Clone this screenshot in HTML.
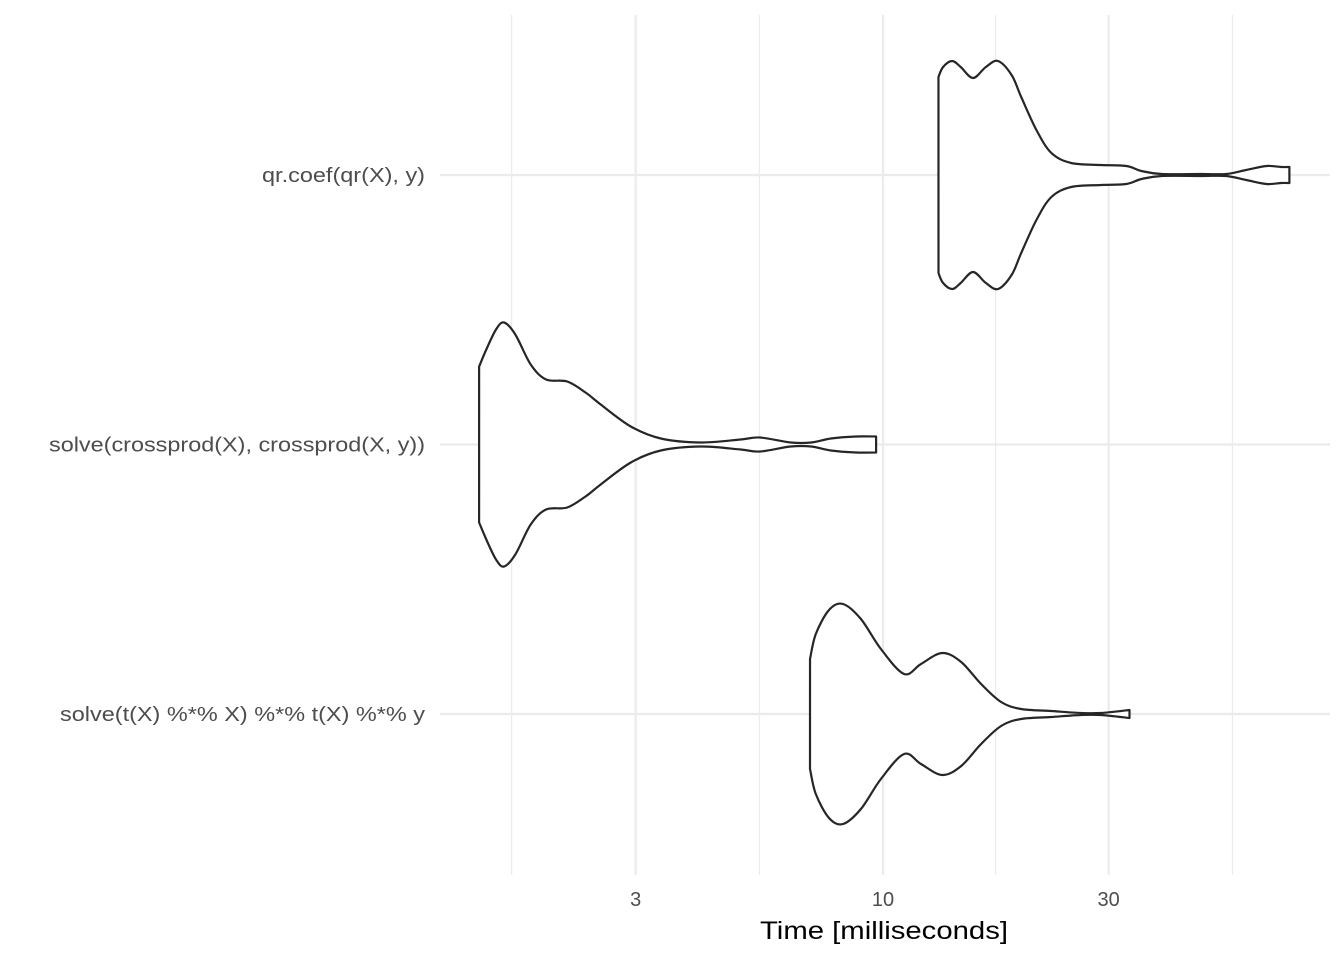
<!DOCTYPE html>
<html><head><meta charset="utf-8"><style>
body{margin:0;background:#fff}
svg{display:block;font-family:"Liberation Sans",Arial,sans-serif}
</style></head><body>
<svg id="chart" width="1344" height="960">
<g id="grid"></g>
<g id="violins"></g>
<g id="labels"></g>
<text x="884" y="939" text-anchor="middle" font-size="25" textLength="248" lengthAdjust="spacingAndGlyphs" fill="#000">Time [milliseconds]</text>
</svg>
<script>
const categories = ["qr.coef(qr(X), y)", "solve(crossprod(X), crossprod(X, y))", "solve(t(X) %*% X) %*% t(X) %*% y"];
const qrTimes = [13.1,13.4,14.0,14.6,15.5,16.5,17.5,18.7,19.6,21.1,22.7,25.0,28.9,32.7,35.2,38.8,47.1,53.2,58.6,64.7,69.5,72.3];
const qrDens = [98,108,114,108,97,108,114,100,78,45,22,12,10,9,4,1,1,1,5,9,8,8];
const cpTimes = [1.40,1.45,1.52,1.58,1.67,1.80,1.94,2.15,2.35,2.53,2.93,3.39,4.12,5.00,5.49,6.38,7.05,7.76,8.77,9.67];
const cpDens = [78,95,115,122,110,80,65,63,52,40,18,6,2,5,7,2,2,6,8,8];
const mmTimes = [7.01,7.21,7.69,8.23,8.98,9.90,11.08,12.03,13.34,14.63,16.12,17.77,19.59,22.7,26.2,28.9,33.2];
const mmDens = [55,80,104,110,95,65,40,50,61,52,30,12,5,3,1,1,4];
const majorTicks = [3, 10, 30];
const minorTicks = [1.64, 5.48, 17.3, 54.8];
const labelWidths = [163, 376, 365];
const series = [[qrTimes, qrDens], [cpTimes, cpDens], [mmTimes, mmDens]];

const NS = "http://www.w3.org/2000/svg";
const xs = v => 883 + 473 * Math.log10(v / 10);
const ys = i => 175 + i * 269.5;
const ws = d => d;
const grid = document.getElementById('grid'), vg = document.getElementById('violins'), lg = document.getElementById('labels');
function mk(tag, attrs, parent){const e=document.createElementNS(NS,tag);for(const k in attrs)e.setAttribute(k,attrs[k]);parent.appendChild(e);return e;}
function smooth(pts){
  let d='M'+pts[0][0]+','+pts[0][1];
  for(let i=0;i<pts.length-1;i++){
    const p0=pts[Math.max(0,i-1)],p1=pts[i],p2=pts[i+1],p3=pts[Math.min(pts.length-1,i+2)];
    const c1=[p1[0]+(p2[0]-p0[0])/6,p1[1]+(p2[1]-p0[1])/6];
    const c2=[p2[0]-(p3[0]-p1[0])/6,p2[1]-(p3[1]-p1[1])/6];
    d+=' C'+c1[0].toFixed(1)+','+c1[1].toFixed(1)+' '+c2[0].toFixed(1)+','+c2[1].toFixed(1)+' '+p2[0].toFixed(1)+','+p2[1].toFixed(1);
  }
  return d;
}
minorTicks.forEach(t=>{
  const l=mk('line',{x1:xs(t),x2:xs(t),y1:15,y2:875,stroke:'#ebebeb','stroke-width':1.2},grid);
  
  
});
majorTicks.forEach(t=>{
  const l=mk('line',{x1:xs(t),x2:xs(t),y1:15,y2:875,stroke:'#ebebeb','stroke-width':2.2},grid);
  
  
  const tx=mk('text',{x:xs(t),y:906,'text-anchor':'middle','font-size':20,fill:'#4d4d4d'},lg);
  tx.textContent=t;
  
  
});
categories.forEach((c,i)=>{
  const l=mk('line',{x1:440,x2:1330,y1:ys(i),y2:ys(i),stroke:'#ebebeb','stroke-width':2.2},grid);
  
  
  const tx=mk('text',{x:425,y:ys(i)+7,'text-anchor':'end','font-size':20,fill:'#4d4d4d',textLength:labelWidths[i],lengthAdjust:'spacingAndGlyphs'},lg);
  tx.textContent=c;
  
  
  const [t,d]=series[i];
  const top=t.map((v,j)=>[xs(v),ys(i)-ws(d[j])]);
  const bot=t.map((v,j)=>[xs(v),ys(i)+ws(d[j])]).reverse();
  let path=smooth(top)+' L'+bot[0][0].toFixed(1)+','+bot[0][1].toFixed(1);
  path+=smooth(bot).replace(/^M[^ C]+/,'')+' Z';
  const p=mk('path',{d:path,fill:'#fff',stroke:'#262626','stroke-width':2.2,'stroke-linejoin':'round'},vg);
  
  
});
</script>
</body></html>
